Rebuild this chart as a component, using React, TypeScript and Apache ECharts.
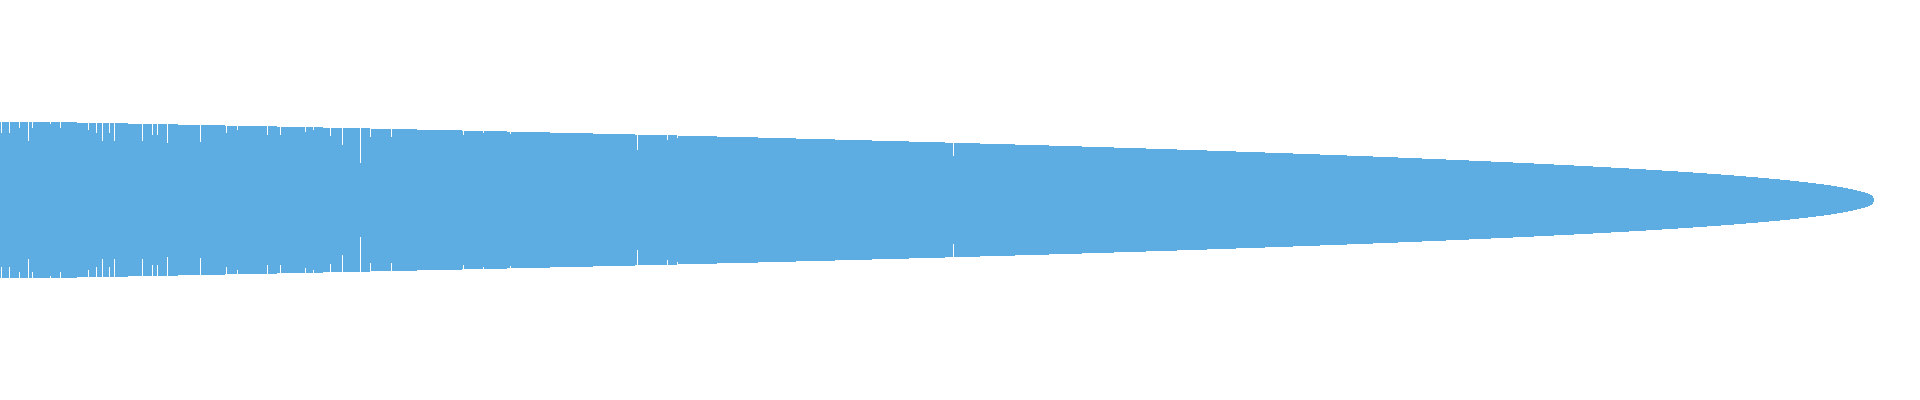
import React, { useEffect, useRef } from "react";
import * as echarts from "echarts";

// One category per pixel column of the chart.
const CATEGORY_COUNT = 1920;
const categories: string[] = Array.from({ length: CATEGORY_COUNT }, (_, i) => String(i + 1));

// Envelope: flat runs of the half-height (run i covers
// categories from runEnds[i-1] up to runEnds[i] - 1).
const runEnds: number[] = [
  77, 128, 178, 225, 277, 323, 370, 417, 462, 507,
  550, 593, 635, 677, 717, 758, 796, 835, 872, 909,
  945, 980, 1015, 1049, 1082, 1114, 1146, 1177, 1207, 1236,
  1265, 1293, 1320, 1347, 1373, 1398, 1422, 1446, 1469, 1491,
  1513, 1534, 1554, 1574, 1593, 1611, 1629, 1646, 1662, 1678,
  1693, 1707, 1721, 1734, 1746, 1758, 1769, 1780, 1790, 1799,
  1808, 1816, 1824, 1831, 1837, 1843, 1848, 1853, 1857, 1861,
  1865, 1868, 1870, 1872, 1873, 1874,
];
const runValues: number[] = [
  78, 77, 76, 75, 74, 73, 72, 71, 70, 69,
  68, 67, 66, 65, 64, 63, 62, 61, 60, 59,
  58, 57, 56, 55, 54, 53, 52, 51, 50, 49,
  48, 47, 46, 45, 44, 43, 42, 41, 40, 39,
  38, 37, 36, 35, 34, 33, 32, 31, 30, 29,
  28, 27, 26, 25, 24, 23, 22, 21, 20, 19,
  18, 17, 16, 15, 14, 13, 12, 11, 10, 9,
  8, 7, 6, 5, 4, 2,
];

// Single lower columns (notches).
const notchIndex: number[] = [
  1, 9, 19, 28, 32, 50, 60, 88, 96, 102,
  109, 114, 142, 152, 157, 167, 200, 226, 237, 267,
  280, 305, 313, 330, 342, 360, 370, 391, 463, 483,
  510, 637, 667, 677, 953,
];
const notchValues: number[] = [
  67, 67, 72, 59, 72, 76, 72, 70, 67, 59,
  67, 59, 59, 65, 65, 57, 58, 67, 70, 65,
  65, 68, 70, 64, 55, 37, 63, 63, 65, 67,
  66, 50, 60, 62, 44,
];

const BAR_COLOR = "#5DADE2";

function buildHalfHeights(): number[] {
  const out: number[] = [];
  let r = 0;
  const last = runEnds[runEnds.length - 1];
  for (let i = 0; i < last; i++) {
    while (i >= runEnds[r]) r++;
    out.push(runValues[r]);
  }
  notchIndex.forEach((idx, k) => {
    out[idx] = notchValues[k];
  });
  return out;
}

export default function App() {
  const ref = useRef<HTMLDivElement>(null);

  useEffect(() => {
    if (!ref.current) return;
    const chart = echarts.init(ref.current, null, { renderer: "svg" });
    const upper = buildHalfHeights();
    const lower = upper.map((v) => -v);
    chart.setOption({
      animation: false,
      backgroundColor: "#ffffff",
      grid: { left: 0, right: 0, top: 0, bottom: 0, containLabel: false },
      xAxis: {
        type: "category",
        data: categories,
        show: false,
        boundaryGap: true,
      },
      yAxis: {
        type: "value",
        min: -200,
        max: 200,
        show: false,
      },
      series: [
        {
          type: "bar",
          data: upper,
          barCategoryGap: "0%",
          barGap: "-100%",
          itemStyle: { color: BAR_COLOR },
          silent: true,
        },
        {
          type: "bar",
          data: lower,
          barCategoryGap: "0%",
          barGap: "-100%",
          itemStyle: { color: BAR_COLOR },
          silent: true,
        },
      ],
    });
    return () => chart.dispose();
  }, []);

  return (
    <div
      ref={ref}
      style={{ position: "fixed", left: 0, top: 0, width: 1920, height: 400 }}
    />
  );
}
